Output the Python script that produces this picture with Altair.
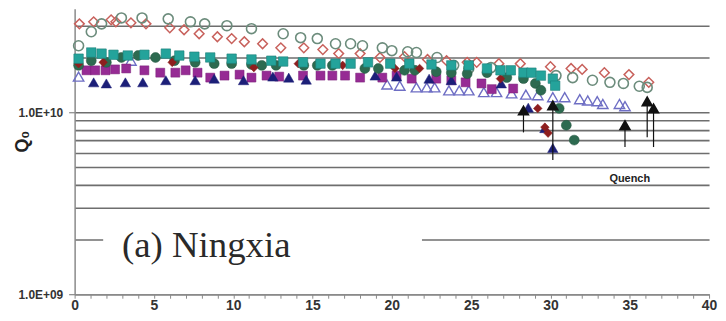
import altair as alt
import pandas as pd

# ---------------- data (Q0 values in units of 1e10) ----------------
open_diamond_x = [0.3, 1.2, 2.3, 2.6, 3.55, 4.5, 6.0, 6.9, 7.85, 9.0, 9.9, 10.7, 11.85, 13.0,
                  14.45, 15.65, 16.65, 18.0, 19.25, 20.8, 22.25, 23.45, 24.75, 25.35, 26.75,
                  28.1, 30.0, 31.3, 32.0, 33.4, 34.95, 36.2]
open_diamond_q = [3.06, 3.14, 3.22, 3.14, 3.10, 3.06, 2.91, 2.84, 2.70, 2.60, 2.54, 2.44, 2.38,
                  2.26, 2.26, 2.21, 2.10, 2.10, 2.00, 2.02, 1.95, 1.92, 1.88, 1.88, 1.85, 1.85,
                  1.78, 1.74, 1.72, 1.65, 1.61, 1.46]

open_circle_x = [0.25, 1.05, 1.7, 2.95, 4.25, 5.9, 7.3, 8.2, 9.6, 11.15, 13.15, 14.25, 15.3,
                 16.45, 17.4, 18.15, 19.4, 20.0, 21.0, 21.55, 22.85, 23.9, 24.85, 26.25, 30.35,
                 31.4, 32.65, 33.75, 34.6, 35.6, 36.1]
open_circle_q = [2.32, 2.77, 3.06, 3.30, 3.30, 3.26, 3.14, 3.06, 2.99, 2.88, 2.70, 2.57, 2.54,
                 2.38, 2.38, 2.32, 2.26, 2.18, 2.15, 2.13, 2.00, 1.81, 1.74, 1.76, 1.59, 1.55,
                 1.50, 1.46, 1.44, 1.39, 1.37]

teal_square_x = [0.25, 1.05, 1.7, 2.45, 3.35, 4.4, 5.75, 6.6, 7.55, 8.55, 9.9, 11.15, 12.4,
                 13.15, 14.4, 15.5, 16.45, 17.4, 18.5, 19.9, 21.1, 22.5, 23.75, 24.85, 26.0,
                 26.85, 27.5, 28.3, 28.8, 29.4, 30.15, 30.3]
teal_square_q = [1.97, 2.13, 2.10, 2.07, 2.05, 2.07, 2.10, 2.05, 2.02, 2.00, 1.97, 1.95, 1.92,
                 1.90, 1.88, 1.85, 1.85, 1.85, 1.88, 1.85, 1.85, 1.83, 1.81, 1.81, 1.74, 1.70,
                 1.70, 1.65, 1.65, 1.59, 1.53, 1.40]

green_circle_x = [0.25, 1.05, 2.0, 2.95, 4.0, 5.1, 6.3, 7.6, 8.8, 9.9, 11.15, 11.8, 12.7, 14.45,
                  15.3, 16.25, 18.3, 19.15, 20.8, 21.45, 22.8, 23.75, 24.75, 26.0, 27.25, 28.3,
                  29.05, 29.4, 30.55, 31.0, 31.5]
green_circle_q = [1.81, 1.92, 1.88, 2.00, 2.05, 2.00, 1.92, 1.88, 1.85, 1.85, 1.83, 1.81, 1.81,
                  1.81, 1.81, 1.81, 1.74, 1.74, 1.70, 1.70, 1.67, 1.65, 1.63, 1.65, 1.55, 1.53,
                  1.44, 1.32, 1.05, 0.849, 0.703]

red_diamond_x = [0.25, 1.8, 6.15, 11.3, 14.1, 16.9, 20.2, 21.75, 26.85, 29.2, 29.65, 29.85]
red_diamond_q = [1.85, 1.88, 1.88, 1.76, 1.85, 1.81, 1.74, 1.74, 1.53, 1.05, 0.828, 0.768]

purple_square_x = [0.75, 1.3, 1.95, 2.55, 3.25, 4.4, 5.4, 6.35, 7.0, 7.75, 8.55, 9.45, 10.4,
                   11.15, 12.1, 12.9, 14.4, 15.5, 16.25, 17.05, 18.0, 19.4, 20.3, 21.25, 22.8,
                   23.75, 24.65, 25.65, 26.3, 27.65]
purple_square_q = [1.70, 1.70, 1.70, 1.72, 1.74, 1.70, 1.65, 1.65, 1.70, 1.65, 1.55, 1.59, 1.61,
                   1.55, 1.59, 1.57, 1.59, 1.59, 1.59, 1.59, 1.55, 1.55, 1.59, 1.53, 1.53, 1.50,
                   1.46, 1.44, 1.34, 1.35]

navy_triangle_x = [1.2, 2.0, 3.2, 4.3, 5.75, 7.6, 8.8, 10.65, 12.5, 13.5, 14.6, 18.95, 20.3,
                   22.35, 23.75, 26.9, 28.6, 29.65, 30.15]
navy_triangle_q = [1.46, 1.44, 1.46, 1.46, 1.50, 1.50, 1.53, 1.50, 1.57, 1.55, 1.51, 1.59, 1.57,
                   1.53, 1.50, 1.44, 1.06, 0.818, 0.636]

open_triangle_x = [0.25, 3.55, 19.7, 20.5, 21.55, 22.2, 22.7, 23.6, 24.25, 24.85, 25.8, 26.6,
                   27.55, 28.45, 29.2, 30.15, 30.9, 31.85, 32.35, 32.95, 33.3, 34.35, 34.7]
open_triangle_q = [1.57, 1.92, 1.42, 1.40, 1.37, 1.37, 1.37, 1.32, 1.32, 1.32, 1.29, 1.29, 1.27,
                   1.25, 1.24, 1.21, 1.21, 1.18, 1.16, 1.15, 1.11, 1.11, 1.08]

# quench arrows: x, tail (start) and head (tip) Q0
arrow_x = [28.3, 30.15, 34.7, 36.1, 36.5]
arrow_tail_q = [0.775, 0.547, 0.644, 0.730, 0.644]
arrow_head_q = [1.06, 1.13, 0.882, 1.19, 1.09]

grid_values = [1e9, 2e9, 3e9, 4e9, 5e9, 6e9, 7e9, 8e9, 9e9, 1e10, 2e10, 3e10]
x_ticks = list(range(0, 41))

panel_label = "(a) Ningxia"
panel_label_pos = (8.3, 1.61e9)
panel_box = (1.8, 21.9, 1.8e9, 2.3e9)
quench_label = "Quench"
quench_label_pos = (35.0, 4.3e9)

E10 = 1e10


def frame(xs, qs):
    return pd.DataFrame({"x": xs, "q": [v * E10 for v in qs]})


xscale = alt.Scale(domain=[0, 40], nice=False, zero=False)
yscale = alt.Scale(type="log", domain=[1e9, 3.7e10], nice=False)

xaxis = alt.Axis(
    values=x_ticks,
    labelExpr="datum.value % 5 == 0 ? datum.label : ''",
    grid=False, tickSize=4, tickColor="#8a8a8a", tickWidth=1,
    domainColor="#8a8a8a", domainWidth=1.5,
    labelFont="Liberation Sans", labelFontSize=14, labelFontWeight="bold", labelColor="#333333",
    labelPadding=0, labelOverlap=False, labelFlush=False, title=None,
)
yaxis = alt.Axis(
    values=grid_values,
    labelExpr="datum.value == 1e9 ? '1.0E+09' : (datum.value == 1e10 ? '1.0E+10' : '')",
    tickOpacity={"condition": {"test": "datum.value == 1e9 || datum.value == 1e10", "value": 1}, "value": 0},
    grid=True, gridColor="#6e6e6e", gridWidth=1.6,
    domainColor="#8a8a8a", domainWidth=1.5, tickColor="#6e6e6e", tickSize=6,
    labelFont="Liberation Sans", labelFontSize=12, labelFontWeight="bold", labelColor="#333333",
    labelPadding=6, labelOverlap=False,
    title="Q₀", titleFont="Liberation Sans", titleFontSize=18, titleFontWeight="bold",
    titleColor="#222222", titleAngle=-90, titleX=-52, titleY=133,
    titleAlign="center", titleBaseline="middle",
)

X = alt.X("x:Q", scale=xscale, axis=xaxis)
Y = alt.Y("q:Q", scale=yscale, axis=yaxis)

layers = []

# white box behind the panel label (hides the gridline there)
box_df = pd.DataFrame({"x": [panel_box[0]], "x2": [panel_box[1]],
                       "q": [panel_box[2]], "q2": [panel_box[3]]})
layers.append(alt.Chart(box_df).mark_rect(color="white").encode(
    x=X, x2="x2:Q", y=Y, y2="q2:Q"))

series_styles = [
    (open_diamond_x, open_diamond_q, dict(shape="diamond", filled=False, stroke="#c8615c", strokeWidth=1.5, size=95)),
    (open_circle_x, open_circle_q, dict(shape="circle", filled=False, stroke="#6c8c7c", strokeWidth=1.6, size=100)),
    (open_triangle_x, open_triangle_q, dict(shape="triangle-up", filled=False, stroke="#6e6ec4", strokeWidth=1.4, size=110)),
    (purple_square_x, purple_square_q, dict(shape="square", filled=True, fill="#962b94", stroke="#7a1f78", strokeWidth=0.5, size=81, fillOpacity=1)),
    (navy_triangle_x, navy_triangle_q, dict(shape="triangle-up", filled=True, fill="#1c1f78", stroke="#1c1f78", strokeWidth=0.5, size=110, fillOpacity=1)),
    (green_circle_x, green_circle_q, dict(shape="circle", filled=True, fill="#2d6a50", stroke="#24563f", strokeWidth=0.5, size=100, fillOpacity=1)),
    (red_diamond_x, red_diamond_q, dict(shape="diamond", filled=True, fill="#8e1e1e", stroke="#8e1e1e", strokeWidth=0.5, size=75, fillOpacity=1)),
    (teal_square_x, teal_square_q, dict(shape="square", filled=True, fill="#24a39b", stroke="#1c7f78", strokeWidth=0.6, size=90, fillOpacity=1)),
]
for xs, qs, style in series_styles:
    layers.append(alt.Chart(frame(xs, qs)).mark_point(opacity=1, **style).encode(x=X, y=Y))

# quench arrows
arrow_df = pd.DataFrame({"x": arrow_x,
                         "q": [v * E10 for v in arrow_tail_q],
                         "q2": [v * E10 for v in arrow_head_q]})
layers.append(alt.Chart(arrow_df).mark_rule(color="#111111", strokeWidth=1.2).encode(
    x=X, y=Y, y2="q2:Q"))
head_df = pd.DataFrame({"x": arrow_x, "q": [v * E10 for v in arrow_head_q]})
layers.append(alt.Chart(head_df).mark_point(shape="triangle-up", filled=True, fill="#111111",
                                            stroke="#111111", size=85, opacity=1).encode(
    x=X, y=Y, yOffset=alt.value(3)))

# text annotations
label_df = pd.DataFrame({"x": [panel_label_pos[0]], "q": [panel_label_pos[1]], "t": [panel_label]})
layers.append(alt.Chart(label_df).mark_text(font="Liberation Serif", fontSize=37, color="#2a2a2a",
                                            align="center", baseline="alphabetic").encode(
    x=X, y=Y, text="t:N"))
quench_df = pd.DataFrame({"x": [quench_label_pos[0]], "q": [quench_label_pos[1]], "t": [quench_label]})
layers.append(alt.Chart(quench_df).mark_text(font="Liberation Sans", fontSize=11, fontWeight="bold",
                                             color="#222222", align="center", baseline="middle").encode(
    x=X, y=Y, text="t:N"))

chart = alt.layer(*layers).properties(
    width=638, height=287,
    padding={"left": 67, "top": 0, "right": 9, "bottom": 17},
    autosize=alt.AutoSizeParams(type="none"),
    background="white",
).configure_view(stroke=None)

chart.save("out.html", embed_options={"renderer": "svg", "actions": False})
